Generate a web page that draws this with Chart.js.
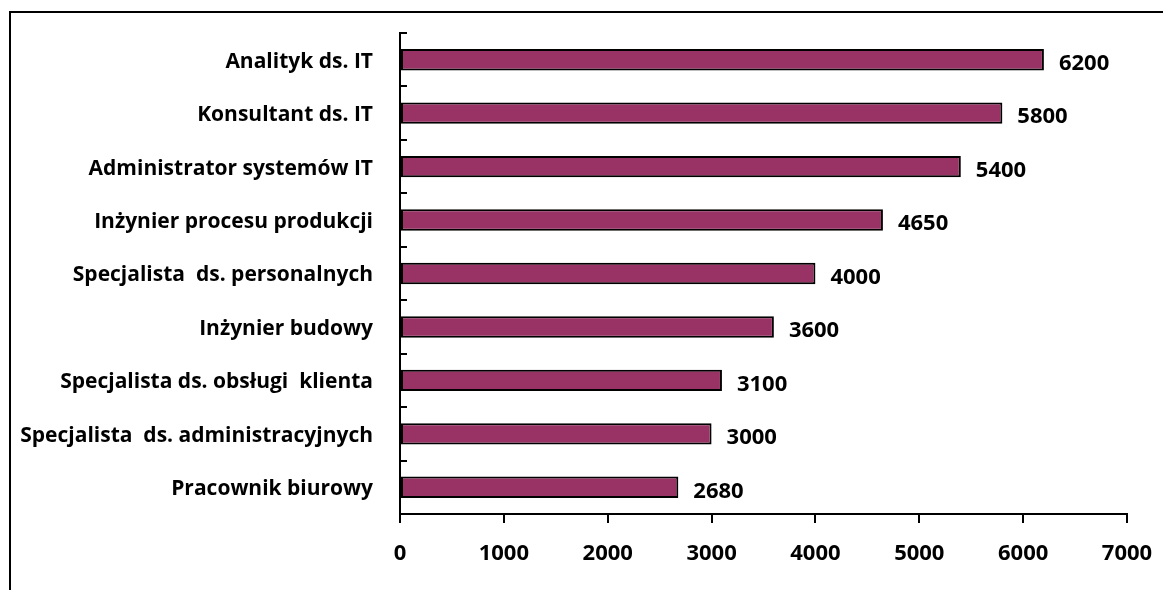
<!DOCTYPE html>
<html lang="pl">
<head>
    <meta charset="UTF-8">
    <title>Wynagrodzenia</title>
    <script src="https://cdn.jsdelivr.net/npm/chart.js"></script>
    <style>
        html, body { margin: 0; padding: 0; overflow: hidden; background: #fff; }
        #frame {
            position: absolute; left: 9px; top: 11px;
            width: 2000px; height: 2000px;
            border: 2px solid #000;
        }
        #wrap { position: absolute; left: 0; top: 0; width: 1163px; height: 590px; }
    </style>
</head>
<body>
    <div id="frame"></div>
    <div id="wrap"><canvas id="salaryChart"></canvas></div>

    <script>
        // categories, top to bottom
        const jobs = [
            'Analityk ds. IT',
            'Konsultant ds. IT',
            'Administrator systemów IT',
            'Inżynier procesu produkcji',
            'Specjalista  ds. personalnych',
            'Inżynier budowy',
            'Specjalista ds. obsługi  klienta',
            'Specjalista  ds. administracyjnych',
            'Pracownik biurowy'
        ];
        const salaries = [6200, 5800, 5400, 4650, 4000, 3600, 3100, 3000, 2680];
        const xTicks = [0, 1000, 2000, 3000, 4000, 5000, 6000, 7000];

        const fontFamily = "'Open Sans', Lato, sans-serif";

        // value labels at the end of each bar
        const valueLabels = {
            id: 'valueLabels',
            afterDatasetsDraw(chart) {
                const ctx = chart.ctx;
                const meta = chart.getDatasetMeta(0);
                ctx.save();
                ctx.font = 'bold 22px ' + fontFamily;
                ctx.fillStyle = '#000';
                ctx.textAlign = 'left';
                ctx.textBaseline = 'middle';
                meta.data.forEach((bar, i) => {
                    ctx.fillText(String(salaries[i]), bar.x + 15, bar.y + 4);
                });
                ctx.restore();
            }
        };

        const ctx = document.getElementById('salaryChart').getContext('2d');
        new Chart(ctx, {
            type: 'bar',
            data: {
                labels: jobs,
                datasets: [{
                    data: salaries,
                    backgroundColor: '#993366',
                    borderColor: '#000',
                    borderWidth: 2,
                    borderSkipped: false,
                    barPercentage: 0.4,
                    categoryPercentage: 1
                }]
            },
            options: {
                indexAxis: 'y',
                responsive: true,
                maintainAspectRatio: false,
                animation: false,
                layout: { padding: { left: 0, right: 36, top: 33, bottom: 0 } },
                plugins: {
                    legend: { display: false },
                    tooltip: { enabled: false }
                },
                scales: {
                    x: {
                        min: 0,
                        max: 7000,
                        afterBuildTicks(scale) {
                            scale.ticks = xTicks.map(v => ({ value: v }));
                        },
                        afterFit(scale) {
                            scale.height = 76;
                            scale.paddingLeft = 0;
                            scale.paddingRight = 0;
                        },
                        border: { color: '#000', width: 2 },
                        grid: { drawOnChartArea: false, color: '#000', lineWidth: 2, tickLength: 9 },
                        ticks: {
                            color: '#000',
                            padding: 18,
                            maxRotation: 0,
                            callback: v => String(v),
                            font: { family: fontFamily, size: 22, weight: 'bold' }
                        }
                    },
                    y: {
                        offset: true,
                        afterFit(scale) {
                            scale.width = 400;
                            scale.paddingTop = 0;
                            scale.paddingBottom = 0;
                        },
                        border: { color: '#000', width: 2 },
                        grid: { offset: true, drawOnChartArea: false, color: '#000', lineWidth: 2, tickLength: -7 },
                        ticks: {
                            color: '#000',
                            padding: 34,
                            labelOffset: 2,
                            font: { family: fontFamily, size: 21, weight: 'bold' }
                        }
                    }
                }
            },
            plugins: [valueLabels]
        });
    </script>
</body>
</html>
